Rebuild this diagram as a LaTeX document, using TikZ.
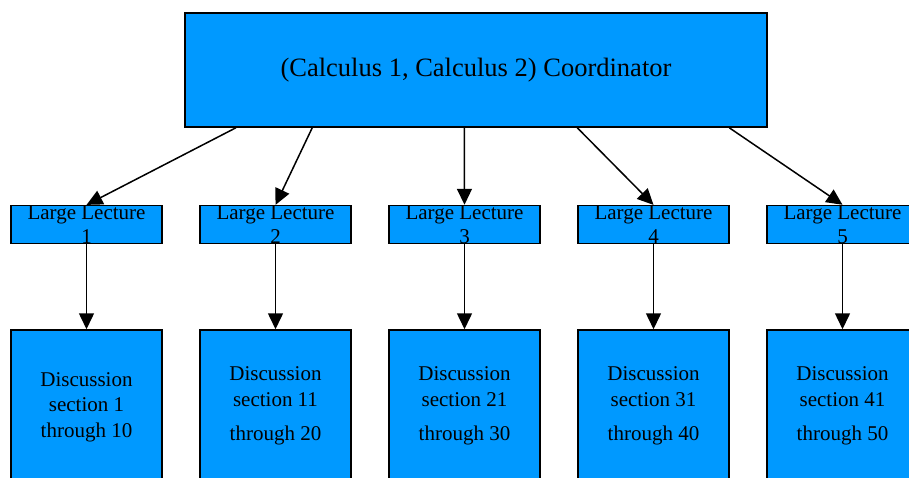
\documentclass[tikz,border=0pt]{standalone}
\usepackage{fontspec}
\setmainfont{Liberation Serif}
\usepackage{tikz}
\usetikzlibrary{arrows.meta}
\usetikzlibrary{positioning}

\definecolor{boxblue}{HTML}{0099FF}

\begin{document}
\begin{tikzpicture}[x=1pt,y=-1pt,
		box/.style={draw=black, fill=boxblue, line width=1.5pt, rectangle, inner sep=0pt, align=center},
		topbox/.style={box, minimum width=582pt, minimum height=114pt, font=\fontsize{26.5}{30}\selectfont},
		lecbox/.style={box, minimum width=151pt, minimum height=37.5pt, font=\fontsize{21}{24}\selectfont},
		discbox/.style={box, minimum width=151pt, minimum height=152pt, font=\fontsize{21}{25.5}\selectfont},
		arr/.style={line width=1.5pt, -{Triangle[length=16pt,width=15pt]}}]
				\useasboundingbox (0,0) rectangle (909,477);
				\clip (0,0) rectangle (909,477);

					%% coordinator
					\node[topbox] (coord) at (476,70) {(Calculus 1, Calculus 2) Coordinator};

					%% large lectures
					\foreach \i in {1,...,5} {
						\pgfmathsetmacro\x{86.5+189*(\i-1)}
						\node[lecbox] (lec\i) at (\x,224.5) {Large Lecture\\\i};
					}

					%% discussion sections
					\node[discbox, minimum height=154pt] (disc1) at (86.5,407) {Discussion\\section 1\\through 10};
					\foreach \i in {2,...,5} {
						\pgfmathsetmacro\x{86.5+189*(\i-1)}
						\pgfmathtruncatemacro\lo{10*(\i-1)+1}
						\pgfmathtruncatemacro\hi{10*\i}
						\node[discbox] (disc\i) at (\x,406) {Discussion\\section \lo\\[9pt]through \hi};
					}

					%% arrows
					\foreach \i/\s in {1/51.7,2/128,3/280,4/393,5/545}
						\draw[arr] ([xshift=\s pt]coord.south west) -- (lec\i.north);
					\foreach \i in {1,...,5}
						\draw[arr] (lec\i.south) -- (disc\i.north);
\end{tikzpicture}
\end{document}
